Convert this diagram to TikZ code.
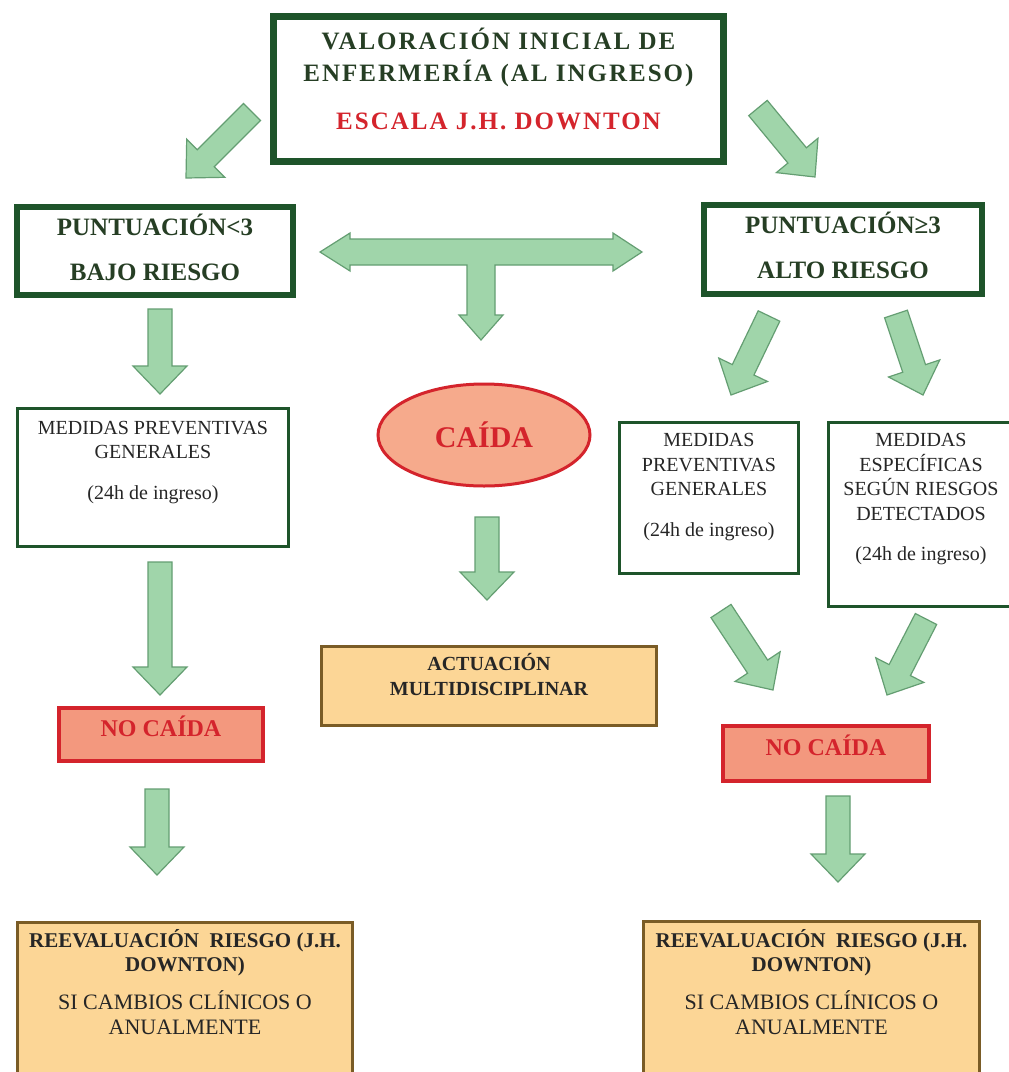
\documentclass[tikz,border=0pt]{standalone}
\usepackage{fontspec}
\setmainfont{Liberation Serif}
\usepackage{xcolor}
\usepackage{tikz}
\usetikzlibrary{positioning,calc,shapes.geometric}
\definecolor{cgreen}{RGB}{30,84,42}
\definecolor{ctext}{RGB}{38,62,36}
\definecolor{carrow}{RGB}{160,213,170}
\definecolor{carrowd}{RGB}{100,158,114}
\definecolor{cred}{RGB}{212,36,44}
\definecolor{cfall}{RGB}{246,170,140}
\definecolor{cnofall}{RGB}{243,152,126}
\definecolor{corange}{RGB}{252,214,150}
\definecolor{cbrown}{RGB}{122,92,38}

% block arrow from tail #1 to tip #2
\newcommand{\blockarr}[2]{%
  \coordinate (#2b) at ($(#2)!28pt!(#1)$);
  \draw[garrow] ($(#1)!12pt!90:(#2)$) -- ($(#2b)!12pt!90:(#2)$) -- ($(#2b)!27pt!90:(#2)$) -- (#2)
    -- ($(#2b)!27pt!-90:(#2)$) -- ($(#2b)!12pt!-90:(#2)$) -- ($(#1)!12pt!-90:(#2)$) -- cycle;
}

\begin{document}
\begin{tikzpicture}[
  x=1pt,y=-1pt,
  garrow/.style={fill=carrow,draw=carrowd,line width=1.2pt,line join=miter},
  gbox/.style={draw=cgreen,fill=white,line width=6pt,inner sep=0pt},
  mbox/.style={draw=cgreen,fill=white,line width=3pt,inner sep=0pt},
  obox/.style={draw=cbrown,fill=corange,line width=3pt,inner sep=0pt},
  nbox/.style={draw=cred,fill=cnofall,line width=4pt,inner sep=0pt,text=cred,
    font=\bfseries\fontsize{24}{28}\selectfont,text height=21pt,text depth=18pt},
  hd/.style={text=ctext,align=center,font=\bfseries\fontsize{25}{45}\selectfont,text depth=8pt},
  med/.style={text=black!85,align=center,font=\fontsize{20}{24.5}\selectfont},
  reevb/.style={text=black!85,align=center,font=\bfseries\fontsize{21}{24}\selectfont},
  reevr/.style={text=black!85,align=center,font=\fontsize{22}{25}\selectfont},
]
\path[use as bounding box,fill=white] (0,0) rectangle (1009,1072);

% top
\node[gbox,line width=7pt,minimum width=450pt,minimum height=145pt] (val) at (498.5,89) {};
\node[text=ctext,align=center,font=\bfseries\fontsize{25}{32}\selectfont\addfontfeatures{LetterSpace=8}] (valt) at (498.5,79)
  {VALORACIÓN INICIAL DE\\ENFERMERÍA (AL INGRESO)\\[16pt]\textcolor{cred}{ESCALA J.H. DOWNTON}};

% scores
\node[gbox,minimum width=276pt,minimum height=88pt,hd] (pbajo) at (155,251) {PUNTUACIÓN<3\\BAJO RIESGO};
\node[gbox,minimum width=278pt,minimum height=89pt,hd] (palto) at (843,249.5) {PUNTUACIÓN≥3\\ALTO RIESGO};

\coordinate (v1) at (252,112); \coordinate (v1e) at (186,178);
\coordinate (v2) at (758,108); \coordinate (v2e) at (815,177);
\blockarr{v1}{v1e}
\blockarr{v2}{v2e}

% junction arrow
\coordinate (tj) at (481,252);
\draw[garrow] (320,252) -- (350,233) -- (350,239) -- (613,239) -- (613,233) -- (642,252) -- (613,271)
  -- (613,265) -- (495,265) -- (495,315) -- (503,315) -- (481,340) -- (459,315) -- (467,315)
  -- (467,265) -- (350,265) -- (350,271) -- cycle;

% measures
\coordinate (b1) at (160,309); \coordinate (b1e) at (160,394);
\coordinate (a1) at (769,316); \coordinate (a1e) at (731,395);
\coordinate (a2) at (896,314); \coordinate (a2e) at (923,395);
\blockarr{b1}{b1e}
\blockarr{a1}{a1e}
\blockarr{a2}{a2e}

\node[mbox,minimum width=271pt,minimum height=138pt] (mpg1) at (153,477.5) {};
\node[med,font=\fontsize{20}{24}\selectfont] (mpg1t) at (153,463) {MEDIDAS PREVENTIVAS\\GENERALES\\[17pt](24h de ingreso)};

\node[ellipse,draw=cred,fill=cfall,line width=3pt,minimum width=212pt,minimum height=102pt,inner sep=0pt,
  text=cred,font=\bfseries\fontsize{30}{34}\selectfont] (caida) at (484,435) {CAÍDA};

\node[mbox,minimum width=179pt,minimum height=151pt] (mpg2) at (709,498) {};
\node[med] (mpg2t) at (709,487) {MEDIDAS\\PREVENTIVAS\\GENERALES\\[16pt](24h de ingreso)};

\node[mbox,minimum width=185pt,minimum height=184pt] (mesp) at (921,514.5) {};
\node[med] (mespt) at (921,499) {MEDIDAS\\ESPECÍFICAS\\SEGÚN RIESGOS\\DETECTADOS\\[15.5pt](24h de ingreso)};

% outcomes
\coordinate (c1) at (487,517); \coordinate (c1e) at (487,600);
\coordinate (b2) at (160,562); \coordinate (b2e) at (160,695);
\coordinate (a3) at (721,611); \coordinate (a3e) at (773,690);
\coordinate (a4) at (926,619); \coordinate (a4e) at (887,695);
\blockarr{c1}{c1e}
\blockarr{b2}{b2e}
\blockarr{a3}{a3e}
\blockarr{a4}{a4e}

\node[obox,minimum width=335pt,minimum height=79pt] (act) at (489,686) {};
\node[text=black!85,align=center,font=\bfseries\fontsize{20}{25}\selectfont] (actt) at (489,675) {ACTUACIÓN\\MULTIDISCIPLINAR};

\node[nbox,minimum width=204pt,minimum height=53pt] (noc1) at (161,734.5) {NO CAÍDA};
\node[nbox,minimum width=206pt,minimum height=55pt] (noc2) at (826,753.5) {NO CAÍDA};

% re-evaluation
\coordinate (b3) at (157,789); \coordinate (b3e) at (157,875);
\coordinate (a5) at (838,796); \coordinate (a5e) at (838,882);
\blockarr{b3}{b3e}
\blockarr{a5}{a5e}

\node[obox,minimum width=335pt,minimum height=180pt] (reev1) at (185,1012) {};
\node[reevb] (reev1a) at (185,952.5) {REEVALUACIÓN \ RIESGO (J.H.\\DOWNTON)};
\node[reevr] (reev1b) at (185,1013) {SI CAMBIOS CLÍNICOS O\\ANUALMENTE};

\node[obox,minimum width=336pt,minimum height=180pt] (reev2) at (811.5,1011) {};
\node[reevb] (reev2a) at (811.5,952.5) {REEVALUACIÓN \ RIESGO (J.H.\\DOWNTON)};
\node[reevr] (reev2b) at (811.5,1013) {SI CAMBIOS CLÍNICOS O\\ANUALMENTE};
\end{tikzpicture}
\end{document}
